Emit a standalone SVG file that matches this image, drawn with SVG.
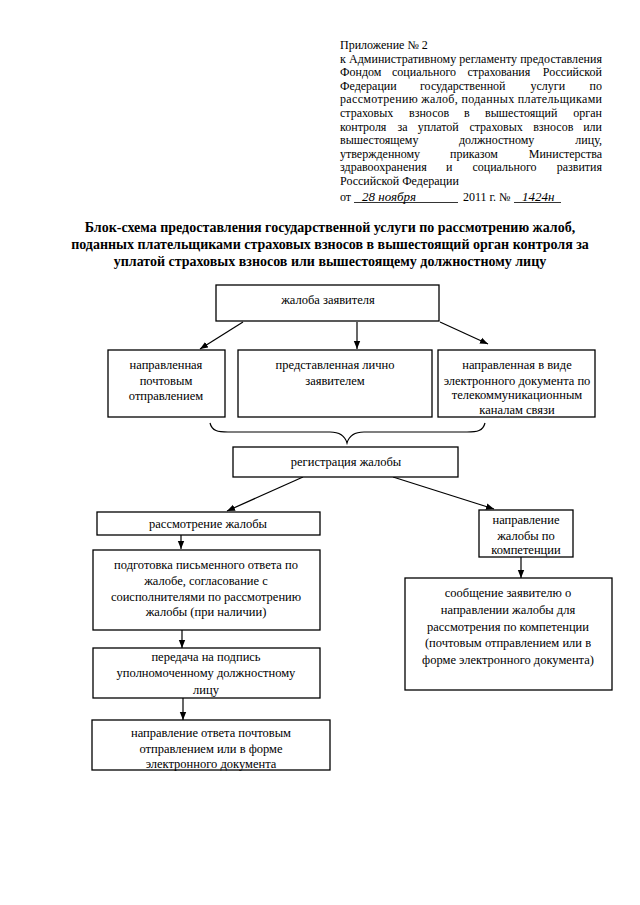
<svg xmlns="http://www.w3.org/2000/svg" width="640" height="905" viewBox="0 0 640 905">
<defs>
<marker id="ah" markerWidth="8" markerHeight="8" viewBox="0 0 10 10" refX="10" refY="5" orient="auto" markerUnits="userSpaceOnUse">
<path d="M0,1 L10,5 L0,9 z" fill="#000"/>
</marker>
</defs>
<style>
.h{font-family:"Liberation Serif","Times New Roman",serif;font-size:12px;fill:#000}
.t{font-family:"Liberation Serif","Times New Roman",serif;font-size:14px;font-weight:bold;fill:#000;text-anchor:middle}
.b{font-family:"Liberation Serif","Times New Roman",serif;font-size:12.5px;fill:#000;text-anchor:middle}
.hw{font-family:"Liberation Serif","Times New Roman",serif;font-style:italic;font-size:13px;fill:#000}
.box{fill:#fff;stroke:#000;stroke-width:1.3}
.ln{fill:none;stroke:#000;stroke-width:1.2}
.end{text-anchor:end}
</style>
<rect width="640" height="905" fill="#fff"/>
<g id="header">
<text class="h" x="340" y="49">Приложение № 2</text>
<text class="h" x="340" y="62.6" textLength="262" lengthAdjust="spacing">к Административному регламенту предоставления</text>
<text class="h" y="76.2"><tspan x="340">Фондом</tspan><tspan x="392">социального</tspan><tspan x="467.5">страхования</tspan></text>
<text class="h end" x="602" y="76.2">Российской</text>
<text class="h" y="89.8"><tspan x="340">Федерации</tspan><tspan x="420">государственной</tspan><tspan x="530.5">услуги</tspan></text>
<text class="h end" x="602" y="89.8">по</text>
<text class="h" x="340" y="103.4" textLength="262" lengthAdjust="spacing">рассмотрению жалоб, поданных плательщиками</text>
<text class="h" y="117"><tspan x="340">страховых</tspan><tspan x="409">взносов</tspan><tspan x="464">в</tspan><tspan x="485">вышестоящий</tspan></text>
<text class="h end" x="602" y="117">орган</text>
<text class="h" y="130.6"><tspan x="340">контроля</tspan><tspan x="397.5">за</tspan><tspan x="417.8">уплатой</tspan><tspan x="469.4">страховых</tspan><tspan x="533.2">взносов</tspan></text>
<text class="h end" x="602" y="130.6">или</text>
<text class="h" y="144.2"><tspan x="340">вышестоящему</tspan><tspan x="459">должностному</tspan></text>
<text class="h end" x="602" y="144.2">лицу,</text>
<text class="h" y="157.8"><tspan x="340">утвержденному</tspan><tspan x="450">приказом</tspan></text>
<text class="h end" x="602" y="157.8">Министерства</text>
<text class="h" y="171.4"><tspan x="340">здравоохранения</tspan><tspan x="446">и</tspan><tspan x="472.4">социального</tspan></text>
<text class="h end" x="602" y="171.4">развития</text>
<text class="h" x="340" y="185">Российской Федерации</text>
<text class="h" x="340" y="201">от</text>
<line x1="354" y1="202.5" x2="458" y2="202.5" stroke="#000" stroke-width="0.8"/>
<text class="hw" x="362" y="201">28 ноября</text>
<text class="h" x="463" y="201">2011  г. №</text>
<line x1="514" y1="202.5" x2="561" y2="202.5" stroke="#000" stroke-width="0.8"/>
<text class="hw" x="522" y="201">1424н</text>
</g>
<g id="title">
<text class="t" x="330" y="232">Блок-схема предоставления государственной услуги по рассмотрению жалоб,</text>
<text class="t" x="330" y="249">поданных плательщиками страховых взносов в вышестоящий орган контроля за</text>
<text class="t" x="330" y="266">уплатой страховых взносов или вышестоящему должностному лицу</text>
</g>
<g id="connectors">
<line class="ln" x1="243" y1="322" x2="200" y2="349" marker-end="url(#ah)"/>
<line class="ln" x1="357" y1="322" x2="357" y2="349" marker-end="url(#ah)"/>
<line class="ln" x1="440" y1="322" x2="488" y2="344" marker-end="url(#ah)"/>
<path class="ln" d="M210,423 C212,431 218,432 228,432 L330,432 C340,432 345,436 347,443 C349,436 354,432 364,432 L467,432 C477,432 483,431 485,423"/>
<line class="ln" x1="303" y1="477" x2="227" y2="511" marker-end="url(#ah)"/>
<line class="ln" x1="393" y1="477" x2="494" y2="509" marker-end="url(#ah)"/>
<line class="ln" x1="181" y1="535" x2="181" y2="549" marker-end="url(#ah)"/>
<line class="ln" x1="182" y1="630" x2="182" y2="648" marker-end="url(#ah)"/>
<line class="ln" x1="183" y1="698" x2="183" y2="720" marker-end="url(#ah)"/>
<line class="ln" x1="521" y1="557" x2="521" y2="578" marker-end="url(#ah)"/>
</g>
<g id="n1">
<rect class="box" x="216" y="285" width="223" height="36"/>
<text class="b" x="328" y="304">жалоба заявителя</text>
</g>
<g id="n2">
<rect class="box" x="108" y="350" width="117" height="67"/>
<text class="b" x="166" y="369">направленная</text>
<text class="b" x="166" y="385">почтовым</text>
<text class="b" x="166" y="400">отправлением</text>
</g>
<g id="n3">
<rect class="box" x="238" y="350" width="194" height="67"/>
<text class="b" x="335" y="369">представленная лично</text>
<text class="b" x="335" y="385">заявителем</text>
</g>
<g id="n4">
<rect class="box" x="438" y="350" width="157" height="67"/>
<text class="b" x="517" y="369">направленная в виде</text>
<text class="b" x="517" y="385">электронного документа по</text>
<text class="b" x="517" y="399">телекоммуникационным</text>
<text class="b" x="517" y="414">каналам связи</text>
</g>
<g id="n5">
<rect class="box" x="233" y="447" width="225" height="30"/>
<text class="b" x="346" y="466">регистрация жалобы</text>
</g>
<g id="n6">
<rect class="box" x="97" y="512" width="223" height="23"/>
<text class="b" x="208" y="528">рассмотрение жалобы</text>
</g>
<g id="n7">
<rect class="box" x="479" y="510" width="94" height="47"/>
<text class="b" x="526" y="524">направление</text>
<text class="b" x="526" y="540">жалобы по</text>
<text class="b" x="526" y="554">компетенции</text>
</g>
<g id="n8">
<rect class="box" x="93" y="550" width="227" height="80"/>
<text class="b" x="206" y="569">подготовка письменного ответа по</text>
<text class="b" x="206" y="585">жалобе, согласование с</text>
<text class="b" x="206" y="601">соисполнителями по рассмотрению</text>
<text class="b" x="206" y="616">жалобы (при наличии)</text>
</g>
<g id="n9">
<rect class="box" x="93" y="648" width="227" height="50"/>
<text class="b" x="206" y="661">передача на подпись</text>
<text class="b" x="206" y="677">уполномоченному должностному</text>
<text class="b" x="206" y="694">лицу</text>
</g>
<g id="n10">
<rect class="box" x="92" y="720" width="238" height="50"/>
<text class="b" x="211" y="737">направление ответа почтовым</text>
<text class="b" x="211" y="753">отправлением или в форме</text>
<text class="b" x="211" y="768">электронного документа</text>
</g>
<g id="n11">
<rect class="box" x="405" y="578" width="207" height="112"/>
<text class="b" x="508" y="597">сообщение заявителю о</text>
<text class="b" x="508" y="614">направлении жалобы для</text>
<text class="b" x="508" y="631">рассмотрения по компетенции</text>
<text class="b" x="508" y="647">(почтовым отправлением или в</text>
<text class="b" x="508" y="664">форме электронного документа)</text>
</g>
</svg>
